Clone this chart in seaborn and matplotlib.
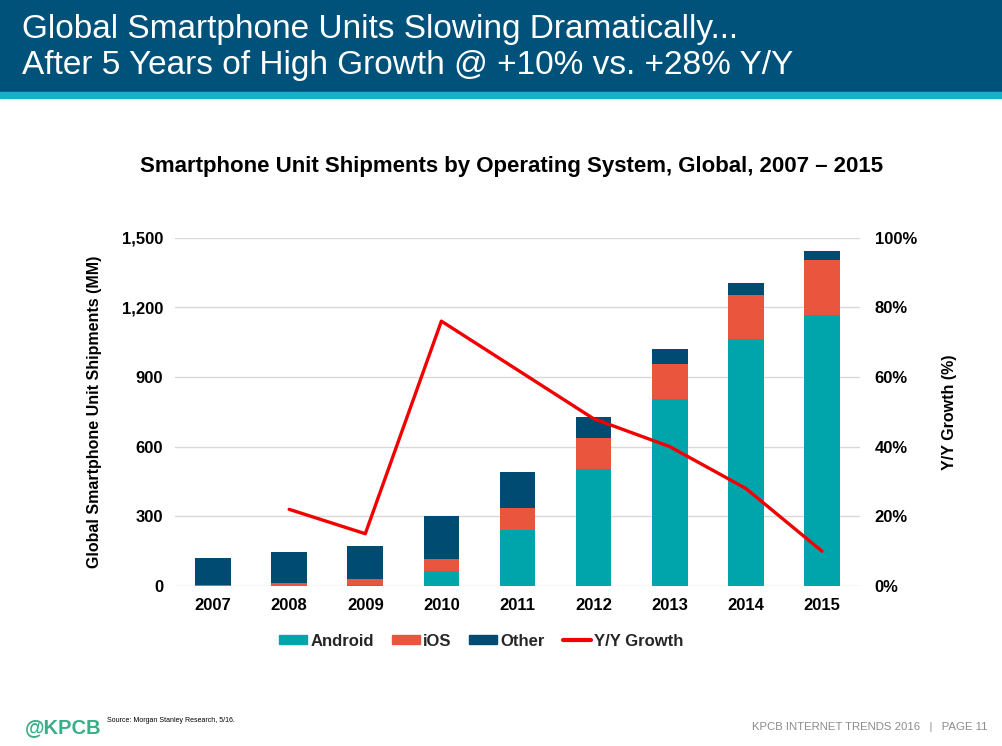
import numpy as np
import pandas as pd
import matplotlib
matplotlib.use("Agg")
import matplotlib.pyplot as plt
import seaborn as sns
from matplotlib.patches import Patch, Rectangle
from matplotlib.lines import Line2D
from matplotlib.ticker import FuncFormatter

# ---- data (MM units) ----
years = ["2007", "2008", "2009", "2010", "2011", "2012", "2013", "2014", "2015"]
android = [0, 1, 6, 66, 240, 502, 804, 1061, 1167]
ios = [3, 12, 23, 49, 94, 137, 153, 193, 235]
other = [119, 135, 142, 188, 158, 89, 65, 50, 39]
growth = [np.nan, 22, 15, 76, 62, 48, 40, 28, 10]  # Y/Y growth %

y_ticks = [0, 300, 600, 900, 1200, 1500]
y2_ticks = [0, 20, 40, 60, 80, 100]

C_ANDROID = "#00A5AC"
C_IOS = "#E9553D"
C_OTHER = "#004B71"
C_LINE = "#F20000"
C_BANNER = "#00527B"
C_STRIPE = "#19AFCB"
C_GRID = "#D9D9D9"

sns.set_theme(style="white")
plt.rcParams["font.family"] = ["Liberation Sans", "DejaVu Sans"]

df = pd.DataFrame({"year": years, "android": android, "ios": ios, "other": other, "growth": growth})
df["a_i"] = df["android"] + df["ios"]
df["total"] = df["a_i"] + df["other"]
df["pos"] = np.arange(len(df))

fig = plt.figure(figsize=(10.02, 7.46), dpi=100)
W, H = 1002, 746

# banner
fig.patches.append(Rectangle((0, 1 - 92 / H), 1, 92 / H, transform=fig.transFigure, color=C_BANNER, zorder=0))
fig.patches.append(Rectangle((0, 1 - 98 / H), 1, 6 / H, transform=fig.transFigure, color=C_STRIPE, zorder=0))
fig.text(22 / W, 1 - 38 / H, "Global Smartphone Units Slowing Dramatically...", color="white",
         fontsize=24, va="baseline", ha="left")
fig.text(22 / W, 1 - 74 / H, "After 5 Years of High Growth @ +10% vs. +28% Y/Y", color="white",
         fontsize=24, va="baseline", ha="left")

# chart title
fig.text(512 / W, 1 - 172 / H, "Smartphone Unit Shipments by Operating System, Global, 2007 \u2013 2015",
         fontsize=16, fontweight="bold", ha="center", va="baseline", color="black")

ax = fig.add_axes([175 / W, 1 - 586 / H, 685 / W, (586 - 237.5) / H])
bw = 0.47
sns.barplot(data=df, x="year", y="total", color=C_OTHER, width=bw, saturation=1, errorbar=None, ax=ax, zorder=2)
sns.barplot(data=df, x="year", y="a_i", color=C_IOS, width=bw, saturation=1, errorbar=None, ax=ax, zorder=3)
sns.barplot(data=df, x="year", y="android", color=C_ANDROID, width=bw, saturation=1, errorbar=None, ax=ax, zorder=4)
for p in ax.patches:
    p.set_linewidth(0)

ax.set_xlim(-0.5, len(years) - 0.5)
ax.set_ylim(0, 1500)
ax.set_yticks(y_ticks)
ax.yaxis.set_major_formatter(FuncFormatter(lambda v, _: f"{int(v):,}"))
ax.grid(axis="y", color=C_GRID, linewidth=1, zorder=0)
ax.set_axisbelow(True)
for s in ax.spines.values():
    s.set_visible(False)
ax.tick_params(axis="both", length=0, labelsize=12, colors="black")
ax.tick_params(axis="y", pad=8.5)
ax.tick_params(axis="x", pad=9)
for lab in ax.get_xticklabels() + ax.get_yticklabels():
    lab.set_fontweight("bold")
ax.set_xlabel("")
ax.set_ylabel("Global Smartphone Unit Shipments (MM)", fontsize=11.5, fontweight="bold", labelpad=14, color="black")

ax2 = ax.twinx()
sns.lineplot(data=df, x="pos", y="growth", color=C_LINE, linewidth=2.4, ax=ax2, zorder=5)
ax2.set_ylim(0, 100)
ax2.set_xlim(-0.5, len(years) - 0.5)
ax2.set_yticks(y2_ticks)
ax2.yaxis.set_major_formatter(FuncFormatter(lambda v, _: f"{int(v)}%"))
for s in ax2.spines.values():
    s.set_visible(False)
ax2.tick_params(axis="y", length=0, labelsize=12, pad=10.5, colors="black")
for lab in ax2.get_yticklabels():
    lab.set_fontweight("bold")
ax2.set_ylabel("Y/Y Growth (%)", fontsize=11.5, fontweight="bold", labelpad=18, color="black")
ax2.set_xlabel("")
ax2.grid(False)

handles = [Patch(color=C_ANDROID), Patch(color=C_IOS), Patch(color=C_OTHER),
           Line2D([0], [0], color=C_LINE, linewidth=3)]
labels = ["Android", "iOS", "Other", "Y/Y Growth"]
leg = fig.legend(handles, labels, loc="center", bbox_to_anchor=(481 / W, 1 - 641 / H), ncol=4, frameon=False,
                 handlelength=1.68, handleheight=0.5, handletextpad=0.18, columnspacing=1.08,
                 borderpad=0, prop={"weight": "bold", "size": 12})

# footer
fig.text(25 / W, 1 - 728 / H, "@KPCB", color="#3AAE86", fontsize=14.5, fontweight="bold",
         ha="left", va="center")
fig.text(107 / W, 1 - 720 / H, "Source: Morgan Stanley Research, 5/16.", color="black", fontsize=5,
         ha="left", va="center")
fig.text(987 / W, 1 - 727 / H, "KPCB INTERNET TRENDS 2016   |   PAGE 11", color="#8C8C8C", fontsize=8.2,
         ha="right", va="center")

fig.savefig("out.png", dpi=100)
